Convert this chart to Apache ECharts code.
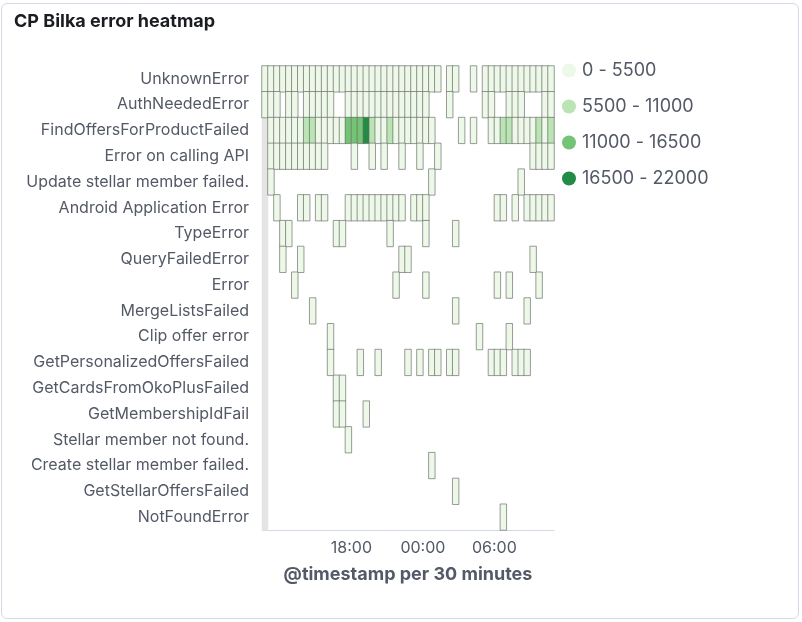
<!DOCTYPE html>
<html>
<head>
<meta charset="utf-8">
<script src="https://cdn.jsdelivr.net/npm/echarts@6/dist/echarts.min.js"></script>
<style>
html, body { margin: 0; padding: 0; background: #ffffff; }
#frame { position: absolute; left: 1px; top: 3px; width: 796px; height: 614px; border: 1px solid #d3dae6; border-radius: 6px; }
#chart { position: absolute; left: 0; top: 0; width: 802px; height: 622px; }
</style>
</head>
<body>
<div id="frame"></div>
<div id="chart"></div>
<script>
// ---- Data ----
const chartTitle = 'CP Bilka error heatmap';
const xAxisName = '@timestamp per 30 minutes';

const errorTypes = [
  'UnknownError', 'AuthNeededError', 'FindOffersForProductFailed', 'Error on calling API',
  'Update stellar member failed.', 'Android Application Error', 'TypeError', 'QueryFailedError',
  'Error', 'MergeListsFailed', 'Clip offer error', 'GetPersonalizedOffersFailed',
  'GetCardsFromOkoPlusFailed', 'GetMembershipIdFail', 'Stellar member not found.',
  'Create stellar member failed.', 'GetStellarOffersFailed', 'NotFoundError'
];

// 30-minute buckets (49)
const timeBins = [
  '10:30', '11:00', '11:30', '12:00', '12:30', '13:00', '13:30', '14:00', '14:30', '15:00',
  '15:30', '16:00', '16:30', '17:00', '17:30', '18:00', '18:30', '19:00', '19:30', '20:00',
  '20:30', '21:00', '21:30', '22:00', '22:30', '23:00', '23:30', '00:00', '00:30', '01:00',
  '01:30', '02:00', '02:30', '03:00', '03:30', '04:00', '04:30', '05:00', '05:30', '06:00',
  '06:30', '07:00', '07:30', '08:00', '08:30', '09:00', '09:30', '10:00', '10:30'
];
const tickLabels = ['18:00', '00:00', '06:00'];
const partialBucket = '10:30'; // first bucket is incomplete (shaded)

// counts per bucket (0 = no documents -> no cell)
const unknownError = [
  1850, 2100, 2300, 2050, 1900, 2200, 2600, 2900, 2750, 2500,
  2400, 2650, 3100, 3300, 3800, 4200, 4500, 4700, 4300, 3900,
  3500, 3100, 2700, 2300, 1900, 1500, 1100, 800, 450, 260,
  0, 120, 90, 0, 0, 60, 0, 140, 320, 610,
  980, 1350, 1700, 2050, 2300, 2500, 2650, 2800, 2950];
const authNeededError = [
  40, 35, 22, 0, 18, 25, 0, 30, 42, 55,
  38, 20, 0, 0, 15, 28, 46, 60, 52, 44,
  37, 31, 26, 19, 14, 10, 8, 5, 0, 0,
  0, 3, 0, 0, 0, 0, 0, 6, 12, 0,
  0, 9, 17, 11, 0, 0, 0, 21, 33];
const findOffersForProductFailed = [
  0, 2100, 2600, 3200, 3900, 4400, 5100, 6300, 5900, 4800,
  4200, 3700, 4600, 5300, 12800, 14900, 13600, 21500, 8700, 5200,
  4600, 6100, 4900, 3800, 3100, 2400, 1700, 1100, 600, 0,
  0, 0, 0, 250, 0, 180, 0, 0, 1900, 3600,
  6400, 7200, 5100, 4300, 3900, 4700, 5800, 5200, 6600];
const errorOnCallingApi = [
  0, 320, 410, 380, 450, 520, 490, 430, 360, 290,
  210, 0, 0, 0, 0, 35, 0, 0, 22, 0,
  18, 0, 0, 26, 0, 0, 14, 0, 0, 8,
  0, 0, 0, 0, 0, 0, 0, 0, 0, 0,
  0, 0, 0, 0, 0, 95, 180, 240, 310];
const updateStellarMemberFailed = [
  0, 3, 0, 0, 0, 0, 0, 0, 0, 0,
  0, 0, 0, 0, 0, 0, 0, 0, 0, 0,
  0, 0, 0, 0, 0, 0, 0, 0, 2, 0,
  0, 0, 0, 0, 0, 0, 0, 0, 0, 0,
  0, 0, 0, 4, 0, 0, 0, 0, 0];
const androidApplicationError = [
  0, 0, 6, 0, 0, 0, 4, 9, 0, 5,
  7, 0, 0, 0, 12, 15, 18, 21, 17, 14,
  16, 11, 9, 8, 0, 5, 7, 4, 0, 0,
  0, 0, 0, 0, 0, 0, 0, 0, 0, 3,
  6, 0, 5, 0, 8, 11, 13, 10, 12];
const typeError = [
  0, 0, 0, 4, 6, 0, 0, 0, 0, 0,
  0, 0, 3, 5, 0, 0, 0, 0, 0, 0,
  0, 2, 0, 0, 0, 0, 0, 3, 0, 0,
  0, 0, 2, 0, 0, 0, 0, 0, 0, 0,
  0, 0, 0, 0, 0, 0, 0, 0, 0];
const queryFailedError = [
  0, 0, 0, 2, 0, 0, 3, 0, 0, 0,
  0, 0, 0, 0, 0, 0, 0, 0, 0, 0,
  0, 0, 0, 4, 2, 0, 0, 0, 0, 0,
  0, 0, 0, 0, 0, 0, 0, 0, 0, 0,
  0, 0, 0, 0, 0, 3, 0, 0, 0];
const plainError = [
  0, 0, 0, 0, 0, 2, 0, 0, 0, 0,
  0, 0, 0, 0, 0, 0, 0, 0, 0, 0,
  0, 0, 3, 0, 0, 0, 0, 2, 0, 0,
  0, 0, 0, 0, 0, 0, 0, 0, 0, 1,
  0, 2, 0, 0, 0, 0, 3, 0, 0];
const mergeListsFailed = [
  0, 0, 0, 0, 0, 0, 0, 0, 2, 0,
  0, 0, 0, 0, 0, 0, 0, 0, 0, 0,
  0, 0, 0, 0, 0, 0, 0, 0, 0, 0,
  0, 0, 1, 0, 0, 0, 0, 0, 0, 0,
  0, 0, 0, 0, 2, 0, 0, 0, 0];
const clipOfferError = [
  0, 0, 0, 0, 0, 0, 0, 0, 0, 0,
  0, 3, 0, 0, 0, 0, 0, 0, 0, 0,
  0, 0, 0, 0, 0, 0, 0, 0, 0, 0,
  0, 0, 0, 0, 0, 0, 1, 0, 0, 0,
  0, 2, 0, 0, 0, 0, 0, 0, 0];
const getPersonalizedOffersFailed = [
  0, 0, 0, 0, 0, 0, 0, 0, 0, 0,
  0, 2, 0, 0, 0, 0, 1, 0, 0, 2,
  0, 0, 0, 0, 1, 0, 3, 0, 2, 1,
  0, 2, 1, 0, 0, 0, 0, 0, 2, 3,
  1, 0, 2, 1, 2, 0, 0, 0, 0];
const getCardsFromOkoPlusFailed = [
  0, 0, 0, 0, 0, 0, 0, 0, 0, 0,
  0, 0, 4, 3, 0, 0, 0, 0, 0, 0,
  0, 0, 0, 0, 0, 0, 0, 0, 0, 0,
  0, 0, 0, 0, 0, 0, 0, 0, 0, 0,
  0, 0, 0, 0, 0, 0, 0, 0, 0];
const getMembershipIdFail = [
  0, 0, 0, 0, 0, 0, 0, 0, 0, 0,
  0, 0, 2, 3, 0, 0, 0, 1, 0, 0,
  0, 0, 0, 0, 0, 0, 0, 0, 0, 0,
  0, 0, 0, 0, 0, 0, 0, 0, 0, 0,
  0, 0, 0, 0, 0, 0, 0, 0, 0];
const stellarMemberNotFound = [
  0, 0, 0, 0, 0, 0, 0, 0, 0, 0,
  0, 0, 0, 0, 2, 0, 0, 0, 0, 0,
  0, 0, 0, 0, 0, 0, 0, 0, 0, 0,
  0, 0, 0, 0, 0, 0, 0, 0, 0, 0,
  0, 0, 0, 0, 0, 0, 0, 0, 0];
const createStellarMemberFailed = [
  0, 0, 0, 0, 0, 0, 0, 0, 0, 0,
  0, 0, 0, 0, 0, 0, 0, 0, 0, 0,
  0, 0, 0, 0, 0, 0, 0, 0, 1, 0,
  0, 0, 0, 0, 0, 0, 0, 0, 0, 0,
  0, 0, 0, 0, 0, 0, 0, 0, 0];
const getStellarOffersFailed = [
  0, 0, 0, 0, 0, 0, 0, 0, 0, 0,
  0, 0, 0, 0, 0, 0, 0, 0, 0, 0,
  0, 0, 0, 0, 0, 0, 0, 0, 0, 0,
  0, 0, 1, 0, 0, 0, 0, 0, 0, 0,
  0, 0, 0, 0, 0, 0, 0, 0, 0];
const notFoundError = [
  0, 0, 0, 0, 0, 0, 0, 0, 0, 0,
  0, 0, 0, 0, 0, 0, 0, 0, 0, 0,
  0, 0, 0, 0, 0, 0, 0, 0, 0, 0,
  0, 0, 0, 0, 0, 0, 0, 0, 0, 0,
  1, 0, 0, 0, 0, 0, 0, 0, 0];

const colorRanges = [[0, 5500], [5500, 11000], [11000, 16500], [16500, 22000]];
const colorScale = ['#edf8e9', '#bae4b3', '#74c476', '#238b45'];

// ---- Build ----
const rows = [
  unknownError, authNeededError, findOffersForProductFailed, errorOnCallingApi,
  updateStellarMemberFailed, androidApplicationError, typeError, queryFailedError,
  plainError, mergeListsFailed, clipOfferError, getPersonalizedOffersFailed,
  getCardsFromOkoPlusFailed, getMembershipIdFail, stellarMemberNotFound,
  createStellarMemberFailed, getStellarOffersFailed, notFoundError
];
const cells = [];
rows.forEach((row, r) => {
  row.forEach((v, b) => { if (v > 0) cells.push([b, r, v]); });
});
const partialIndex = timeBins.indexOf(partialBucket);
const partialCells = errorTypes.map((_, r) => [partialIndex, r, 1]);

const FONT = 'Inter';
const TEXT = '#535966';

const chart = echarts.init(document.getElementById('chart'), null, { renderer: 'canvas' });
chart.setOption({
  animation: false,
  title: {
    text: chartTitle, left: 14, top: 13, padding: 0,
    textStyle: { fontFamily: FONT, fontWeight: 'bold', fontSize: 18, color: '#1a1c21' }
  },
  grid: { left: 262, top: 66, width: 292, height: 464 },
  xAxis: {
    type: 'category', data: timeBins, boundaryGap: true,
    axisLine: { lineStyle: { color: '#d3dae6', width: 1 } },
    axisTick: {
      interval: (i, v) => i === 0 || tickLabels.includes(v),
      length: 8, lineStyle: { color: '#d3dae6' }
    },
    axisLabel: {
      interval: (i, v) => tickLabels.includes(v),
      fontFamily: FONT, fontSize: 16, color: TEXT, margin: 10, padding: [0, 6, 0, 0]
    },
    splitLine: { show: false },
    name: xAxisName, nameLocation: 'middle', nameGap: 36,
    nameTextStyle: { fontFamily: FONT, fontWeight: 'bold', fontSize: 18, color: TEXT }
  },
  yAxis: {
    type: 'category', data: errorTypes, inverse: true, offset: 3,
    axisLine: { show: false },
    axisTick: { alignWithLabel: true, length: 6, lineStyle: { color: '#c5cad3' } },
    axisLabel: { interval: 0, fontFamily: FONT, fontSize: 16, color: TEXT, margin: 10 },
    splitLine: { show: false }
  },
  visualMap: {
    type: 'piecewise', seriesIndex: 1, orient: 'vertical', inverse: true, align: 'left',
    left: 562, top: 61.5, padding: 0,
    itemWidth: 14, itemHeight: 14, itemGap: 18, itemSymbol: 'circle', textGap: 6,
    textStyle: { fontFamily: FONT, fontSize: 18, color: TEXT },
    pieces: colorRanges.map((r, i) => ({ gte: r[0], lt: r[1], label: r[0] + ' - ' + r[1], color: colorScale[i] })),
    hoverLink: false
  },
  series: [
    {
      type: 'heatmap', name: 'partial', data: partialCells, silent: true,
      itemStyle: { color: '#e4e4e4', borderWidth: 0 }, emphasis: { disabled: true }
    },
    {
      type: 'heatmap', name: 'errors', data: cells,
      itemStyle: { borderColor: 'rgba(105,110,105,0.68)', borderWidth: 1 },
      emphasis: { disabled: true }
    }
  ]
});
</script>
</body>
</html>
